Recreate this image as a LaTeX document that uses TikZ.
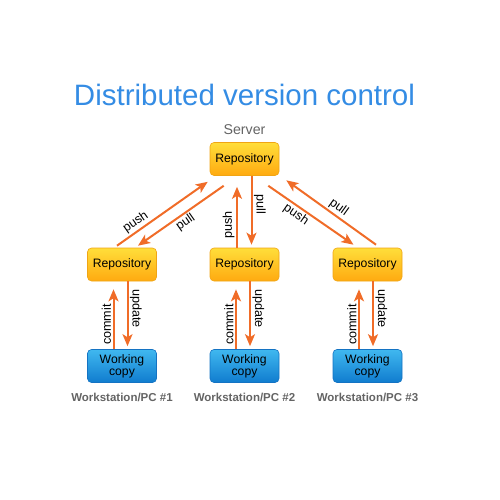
\documentclass[tikz,border=0pt]{standalone}
\usepackage{fontspec}
\setmainfont{Liberation Sans}
\usepackage{tikz}
\usetikzlibrary{positioning}
\usetikzlibrary{calc,arrows.meta}

\definecolor{titleblue}{RGB}{52,140,228}
\definecolor{flowcol}{RGB}{240,108,40}
\definecolor{repotop}{RGB}{255,222,58}
\definecolor{repobot}{RGB}{255,170,16}
\definecolor{repoedge}{RGB}{240,165,20}
\definecolor{worktop}{RGB}{64,184,240}
\definecolor{workbot}{RGB}{16,124,206}
\definecolor{workedge}{RGB}{20,115,195}
\definecolor{greytext}{RGB}{100,100,100}

\tikzset{
	repo/.style={draw=repoedge, line width=0.6pt, top color=repotop, bottom color=repobot,
		rounded corners=4pt, minimum width=69pt, minimum height=33pt, inner sep=0pt,
		font=\fontsize{12.2}{12}\selectfont},
	work/.style={draw=workedge, line width=0.6pt, top color=worktop, bottom color=workbot,
		rounded corners=4pt, minimum width=69pt, minimum height=33pt, inner sep=0pt,
		align=center, font=\fontsize{12.2}{12}\selectfont},
	pclabel/.style={anchor=base, text=greytext, font=\fontsize{11.5}{12}\selectfont\bfseries},
	flow/.style={draw=flowcol, line width=2pt, -{Stealth[length=12pt,width=10pt,inset=3pt]}},
	lbl/.style={sloped, inner sep=1.5pt, font=\fontsize{12.6}{12}\selectfont},
}

\begin{document}
\begin{tikzpicture}[x=1pt, y=-1pt]
	
	% canvas of the picture, in pixels, y pointing down
	\useasboundingbox (0,0) rectangle (500,500);
	
	% headings
	\node[anchor=base, text=titleblue, font=\fontsize{29.5}{30}\selectfont] (title) at (244.5,106) {Distributed version control};
	\node[anchor=base, text=greytext, font=\fontsize{14.2}{15}\selectfont] (srvname) at (244.5,134) {Server};
	
	% the server
	\node[repo] (server) at (244.5,159) {Repository};
	
	% the three workstations
	\node[repo] (repoA) at (122,264.5) {Repository};
	\node[repo] (repoB) at (244.5,264.5) {Repository};
	\node[repo] (repoC) at (367.5,264.5) {Repository};
	
	\node[work] (workA) at (122,366) {Working\\copy};
	\node[work] (workB) at (244.5,366) {Working\\copy};
	\node[work] (workC) at (367.5,366) {Working\\copy};
	
	\node[pclabel] (pcA) at (122,401) {Workstation/PC \#1};
	\node[pclabel] (pcB) at (244.5,401) {Workstation/PC \#2};
	\node[pclabel] (pcC) at (367.5,401) {Workstation/PC \#3};
	
	%%%%%%%%%%%%%%%%%%%%%%%%%%%%%%%%%%%%%%%%%%%%%%%%%%%%%%%%%%%%%%
	% server <-> local repositories
	\draw[flow] ($(repoA.north)+(-5,-2)$) -- ($(server.south west)+(-2,6)$) node[lbl, pos=0.26, above] {push};
	\draw[flow] ($(server.south west)+(14,10)$) -- ($(repoA.north)+(16,-2)$) node[lbl, pos=0.5, below] {pull};
	
	\draw[flow] ($(repoB.north)+(-7.5,0)$) -- ($(server.south)+(-7.5,11)$) node[lbl, pos=0.37, above] {push};
	\draw[flow] ($(server.south)+(7,0)$) -- ($(repoB.north)+(7,-3)$) node[lbl, pos=0.41, above] {pull};
	
	\draw[flow] ($(server.south east)+(-11,10)$) -- ($(repoC.north)+(-14,-3)$) node[lbl, pos=0.38, below] {push};
	\draw[flow] ($(repoC.north)+(8.5,-3)$) -- ($(server.south east)+(7,4.5)$) node[lbl, pos=0.47, above] {pull};
	
	% local repositories <-> working copies
	\draw[flow] ($(workA.north)+(-8.5,0)$) -- ($(repoA.south)+(-8.5,8)$) node[lbl, pos=0.41, above] {commit};
	\draw[flow] ($(repoA.south)+(5.5,0)$) -- ($(workA.north)+(5.5,-3)$) node[lbl, pos=0.42, above] {update};
	
	\draw[flow] ($(workB.north)+(-8.5,0)$) -- ($(repoB.south)+(-8.5,8)$) node[lbl, pos=0.41, above] {commit};
	\draw[flow] ($(repoB.south)+(5.5,0)$) -- ($(workB.north)+(5.5,-3)$) node[lbl, pos=0.42, above] {update};
	
	\draw[flow] ($(workC.north)+(-8.5,0)$) -- ($(repoC.south)+(-8.5,8)$) node[lbl, pos=0.41, above] {commit};
	\draw[flow] ($(repoC.south)+(5.5,0)$) -- ($(workC.north)+(5.5,-3)$) node[lbl, pos=0.42, above] {update};
	
\end{tikzpicture}
\end{document}
